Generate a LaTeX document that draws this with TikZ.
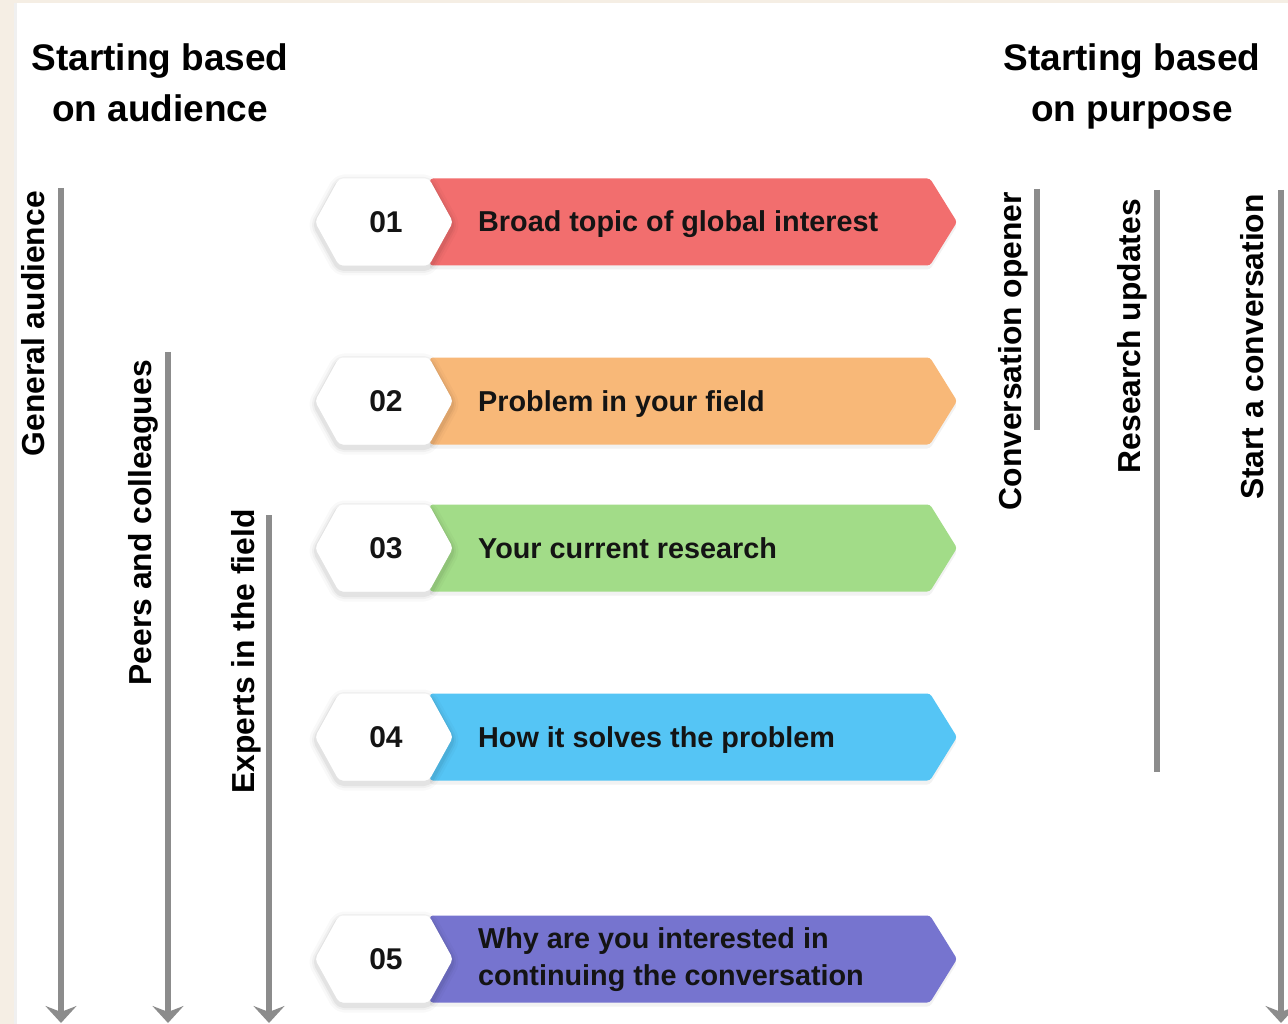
\documentclass[tikz,border=0pt]{standalone}
\usepackage{fontspec}
\setmainfont{Liberation Sans}
\usetikzlibrary{arrows.meta,shadows}
\definecolor{beige}{HTML}{F5EEE4}
\definecolor{linegray}{HTML}{8C8C8C}
\definecolor{cred}{HTML}{F26E6E}
\definecolor{corange}{HTML}{F8B878}
\definecolor{cgreen}{HTML}{A2DC88}
\definecolor{cblue}{HTML}{55C5F5}
\definecolor{cpurple}{HTML}{7674CF}
\definecolor{inktext}{HTML}{141414}
\tikzset{
  titletext/.style={font=\fontsize{37}{51}\selectfont\bfseries, align=center, inner sep=0pt, anchor=north},
  vlabel/.style={font=\fontsize{31.8}{36}\selectfont\bfseries, rotate=90, anchor=base east, inner sep=0pt},
  gline/.style={draw=linegray, line width=6pt},
  garrow/.style={gline, -{Stealth[length=17pt,width=31pt,inset=6pt]}},
  numtext/.style={font=\fontsize{30}{36}\selectfont\bfseries, inner sep=0pt, text=inktext},
  boxtext/.style={font=\fontsize{28.8}{37}\selectfont\bfseries, anchor=base west, inner sep=0pt, text=inktext, align=left},
  barshadow/.style={drop shadow={opacity=0.10, shadow xshift=0pt, shadow yshift=-4pt}},
  halo/.style={draw=black, line join=round},
}
\begin{document}
\begin{tikzpicture}[x=1pt,y=-1pt]
\useasboundingbox (0,0) rectangle (1288,1024);
\fill[beige] (0,0) rectangle (1288,1024);
\fill[white] (14,3) rectangle (1288,1024);
\draw[black!6, line width=3pt] (15.5,3) -- (15.5,1024);

% titles
\node[titletext] (tleft) at (160,43) {Starting based\\on audience};
\node[titletext] (tright) at (1132,43) {Starting based\\on purpose};

% rows
\foreach \c/\col/\n in {222/cred/01, 401/corange/02, 548/cgreen/03, 737/cblue/04, 959/cpurple/05} {
  \fill[\col, barshadow, rounded corners=3pt] (430,\c-43.5) -- (930,\c-43.5) -- (957,\c) -- (930,\c+43.5) -- (430,\c+43.5) -- cycle;
  % soft halo for the white badge
  \foreach \w/\o in {14/0.025, 9/0.035, 5/0.05} {
    \draw[halo, line width=\w pt, opacity=\o, rounded corners=5pt] (315,\c+3) -- (339,\c-40.5) -- (429,\c-40.5) -- (453,\c+3) -- (429,\c+46.5) -- (339,\c+46.5) -- cycle;
  }
  \fill[white, rounded corners=4pt] (315,\c) -- (339,\c-43.5) -- (429,\c-43.5) -- (453,\c) -- (429,\c+43.5) -- (339,\c+43.5) -- cycle;
  \node[numtext] (num\n) at (386,\c) {\n};
}
\node[boxtext] (txt01) at (478,232) {Broad topic of global interest};
\node[boxtext] (txt02) at (478,411) {Problem in your field};
\node[boxtext] (txt03) at (478,558) {Your current research};
\node[boxtext] (txt04) at (478,747) {How it solves the problem};
\node[boxtext] (txt05) at (478,985) {Why are you interested in\\continuing the conversation};

% left audience arrows
\node[vlabel] (lga) at (44,191) {General audience};
\node[vlabel] (lpc) at (151,360) {Peers and colleagues};
\node[vlabel] (lef) at (254,509) {Experts in the field};
\coordinate (ga1) at (61,188);  \coordinate (ga2) at (61,1023);
\coordinate (pc1) at (168,352); \coordinate (pc2) at (168,1023);
\coordinate (ef1) at (269,515); \coordinate (ef2) at (269,1023);
\draw[garrow] (ga1) -- (ga2);
\draw[garrow] (pc1) -- (pc2);
\draw[garrow] (ef1) -- (ef2);

% right purpose lines
\node[vlabel] (lco) at (1021,192) {Conversation opener};
\node[vlabel] (lru) at (1140,199) {Research updates};
\node[vlabel] (lsc) at (1263,194) {Start a conversation};
\coordinate (co1) at (1037,189); \coordinate (co2) at (1037,430);
\coordinate (ru1) at (1157,190); \coordinate (ru2) at (1157,772);
\coordinate (sc1) at (1281,190); \coordinate (sc2) at (1281,1023);
\draw[gline] (co1) -- (co2);
\draw[gline] (ru1) -- (ru2);
\draw[garrow] (sc1) -- (sc2);
\end{tikzpicture}
\end{document}
